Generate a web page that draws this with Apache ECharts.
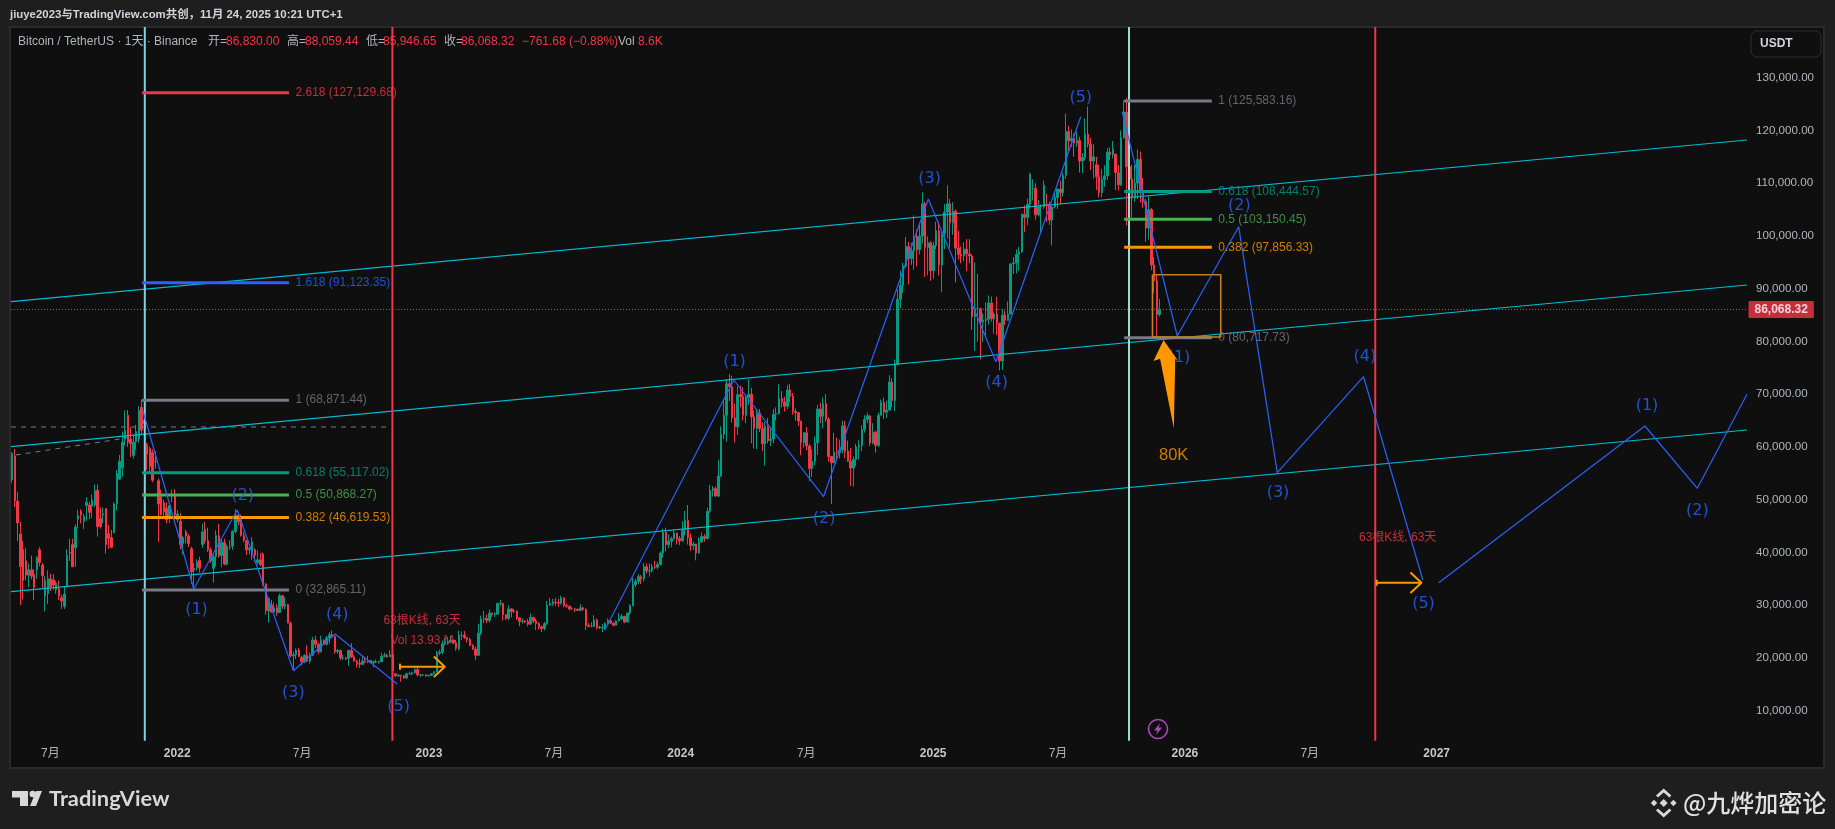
<!DOCTYPE html>
<html>
<head>
<meta charset="utf-8">
<title>BTCUSDT</title>
<script src="https://cdn.jsdelivr.net/npm/echarts@6/dist/echarts.min.js"></script>
<style>html,body{margin:0;padding:0;background:#1e1e1e}#main{width:1835px;height:829px}</style>
</head>
<body>
<div id="main"></div>
<script>
// x axis counts daily bars from 2021-05-05. candle rows: [open, close, low, high] in thousands, one row per 4 bars
var candles2021 = [
[53.8,58.8,53.2,59.0],[58.3,49.8,48.6,59.6],[49.7,45.6,42.2,51.5],[43.5,37.3,30.0,45.8],[40.6,34.7,31.1,42.2],[38.4,35.7,34.7,40.8],[35.7,36.7,33.4,37.9],
[36.7,35.5,34.9,39.4],[35.8,33.4,31.0,36.8],[36.7,39.0,35.0,39.3],[40.5,38.1,37.4,41.0],[37.6,35.6,33.3,38.0],[31.7,34.7,28.8,35.5],[32.2,35.0,30.2,36.6],
[35.0,33.5,32.7,36.0],[34.8,33.8,32.9,35.9],[32.9,34.2,32.2,34.6],[33.1,31.8,31.0,34.7],[31.4,30.8,29.3,32.0],[29.8,32.1,29.3,33.6],[33.7,39.4,33.6,40.6],
[40.0,39.9,38.4,42.6],[41.5,37.3,37.3,42.6],[40.9,44.8,37.3,45.3],[46.3,47.0,44.6,48.1],[47.8,47.1,45.5,48.2],[45.9,46.8,44.4,47.3],[48.9,49.5,46.0,50.5],
[49.0,47.6,46.3,49.6],[48.8,49.9,46.5,51.0],[49.0,51.7,48.6,52.9],[51.8,44.9,43.0,52.9],[46.4,44.9,44.5,48.5],[47.1,47.3,45.5,48.5],[48.3,41.5,39.8,48.4],
[43.6,42.7,40.7,45.2],[42.8,41.0,40.8,44.3],[43.8,49.2,43.6,49.5],[49.2,54.9,48.0,55.6],[53.9,57.3,53.7,58.5],[56.0,60.9,54.3,62.9],[61.5,63.1,60.3,66.9],
[66.0,60.9,60.0,67.0],[61.5,60.6,58.1,63.7],[58.4,60.9,57.8,62.5],[61.0,62.9,59.5,64.2],[61.5,66.9,60.8,67.7],[67.5,63.2,62.3,69.0],[64.4,65.0,62.4,66.3],
[60.4,58.6,55.6,60.8],[59.7,56.3,55.3,60.0],[58.9,53.7,53.3,59.5],[57.3,57.2,55.9,59.2],[53.6,49.2,42.0,54.0],[50.6,47.2,47.0,51.9],[49.4,47.7,46.8,50.0],
[48.4,46.2,45.5,49.5],[46.7,48.9,45.6,49.3],[50.8,50.7,49.5,51.9],[50.7,47.1,46.0,52.0],[46.2,47.3,45.7,48.0]
];
var candles2022 = [
[45.9,41.5,40.6,47.5],[41.7,42.8,39.6,43.1],[43.9,43.1,41.7,44.3],[43.1,41.7,41.0,43.5],[40.7,36.3,34.0,41.1],[36.7,37.0,32.9,38.0],[37.2,38.2,36.6,38.7],
[38.5,37.0,36.2,39.2],[41.5,43.9,40.9,45.5],[44.4,42.2,41.7,45.8],[42.2,40.5,40.1,44.7],[40.5,38.4,38.0,40.9],[37.0,39.2,34.3,39.8],[39.2,43.2,37.4,44.2],
[43.2,39.4,39.0,45.4],[39.4,41.9,37.2,42.6],[41.9,37.8,37.6,42.6],[37.8,41.1,37.5,41.5],[41.1,41.0,40.5,42.3],[41.2,44.0,40.5,44.2],[44.0,47.1,43.6,48.2],
[47.1,45.8,45.2,47.7],[46.5,43.2,43.0,47.2],[43.2,42.3,41.9,43.9],[42.2,40.5,39.5,42.4],[40.5,40.8,39.6,41.0],[39.7,42.0,38.6,42.9],[40.5,39.5,38.2,40.8],
[38.1,38.6,37.7,40.4],[38.6,37.7,37.4,39.9],[39.7,34.0,33.7,40.0],[34.0,29.0,28.2,34.2],[28.9,31.3,26.7,31.4],[30.0,28.7,28.6,31.0],[28.7,29.5,28.6,30.5],
[29.5,28.6,28.0,30.2],[28.6,31.8,28.5,32.2],[31.8,29.8,29.3,31.9],[29.8,30.2,29.2,31.5],[30.1,26.6,26.6,30.3],[26.6,20.4,20.1,26.9],[20.4,20.6,17.6,21.2],
[20.6,21.5,19.8,21.8],[21.5,20.3,20.2,21.9],[20.1,19.3,18.6,20.4],[19.3,20.5,19.0,20.7],[20.5,19.4,19.2,22.4],[19.4,20.5,18.9,21.0],[20.5,23.4,20.4,24.0],
[23.4,22.6,21.9,24.2],[22.6,21.2,20.7,22.9],[21.2,23.3,21.0,24.2],[23.3,22.6,22.5,23.5],[22.6,23.8,22.4,24.2],[23.8,24.4,22.7,24.9],[24.4,24.1,23.9,25.2],
[24.1,21.2,20.8,24.2],[21.2,21.4,20.8,21.7],[21.4,20.0,19.6,21.6],[20.0,20.0,19.6,20.6],[20.0,19.9,19.6,20.2],[19.9,21.4,18.5,21.6],[21.4,20.2,20.0,22.8],
[20.2,19.4,19.3,20.5],[19.4,19.0,18.2,19.7],[19.0,18.8,18.1,19.9],[18.8,19.4,18.6,20.3],[19.4,19.3,19.0,20.2],[19.3,19.5,19.0,20.4],[19.5,19.1,19.0,19.6],
[19.1,19.3,18.2,19.5],[19.3,19.2,19.0,19.7],[19.2,19.3,18.9,19.5],[19.3,20.3,19.2,21.0],[20.3,20.5,20.1,21.0],[20.5,20.2,20.1,20.8],[20.2,20.6,20.2,21.5],
[20.6,17.6,15.6,20.7],[17.0,16.6,16.4,17.1],[16.6,16.7,16.4,17.0],[16.7,16.6,15.5,16.8],[16.6,16.2,16.0,16.8],[16.2,17.0,16.0,17.2],[17.0,17.0,16.9,17.4],
[17.0,17.2,16.7,17.4],[17.2,17.8,17.0,18.0],[17.8,16.8,16.5,18.4],[16.8,16.8,16.4,16.9],[16.8,16.8,16.6,16.9],[16.8,16.6,16.5,16.9],[16.6,16.7,16.5,16.8]
];
var candles2023 = [
[16.7,17.0,16.6,17.1],[17.0,17.4,16.9,17.5],[17.4,20.9,17.3,21.3],[20.9,21.1,20.5,21.6],[21.1,22.7,20.7,23.3],[22.7,23.0,22.4,23.8],[23.0,23.1,22.5,23.9],
[23.1,23.4,22.8,24.2],[23.4,22.9,22.6,23.4],[22.9,21.8,21.4,23.4],[21.8,24.3,21.4,25.2],[24.3,24.3,23.4,25.0],[24.3,23.9,23.6,25.1],[23.9,23.5,22.9,23.9],
[23.5,22.4,22.2,23.8],[22.4,21.7,21.5,22.6],[21.7,20.5,19.6,22.1],[20.5,24.7,20.4,26.5],[24.7,27.4,24.3,28.0],[27.4,27.5,26.6,28.9],[27.5,27.1,26.6,28.2],
[27.1,28.5,26.7,29.2],[28.5,28.2,27.8,28.6],[28.2,28.3,27.8,28.7],[28.3,30.3,28.2,30.5],[30.3,30.3,29.9,31.0],[30.3,28.2,27.1,30.5],[28.2,27.5,27.2,28.0],
[27.5,29.3,27.2,30.0],[29.3,28.8,27.7,29.4],[28.8,28.9,28.5,29.3],[28.9,27.6,27.2,29.0],[27.6,26.9,26.0,27.7],[26.9,27.0,26.5,27.5],[27.0,26.9,26.6,27.2],
[26.9,26.4,26.0,27.4],[26.4,27.7,26.4,28.4],[27.7,27.0,26.6,27.8],[27.0,26.5,25.3,27.4],[26.5,25.9,25.4,26.8],[25.9,25.6,24.9,26.1],[25.6,26.5,25.2,26.8],
[26.5,30.0,26.3,30.8],[30.0,30.3,29.9,31.4],[30.3,30.6,29.9,31.2],[30.6,30.5,29.9,31.4],[30.5,30.4,29.7,31.2],[30.4,31.4,30.1,31.8],[31.4,29.9,29.6,31.4],
[29.9,29.8,29.5,30.3],[29.8,29.3,29.0,30.0],[29.3,29.3,29.1,29.7],[29.3,29.2,28.7,29.5],[29.2,29.0,28.9,29.4],[29.0,29.5,28.9,30.2],[29.5,29.2,29.0,29.7],
[29.2,26.1,25.3,29.4],[26.1,26.0,25.8,26.6],[26.0,26.0,25.8,26.8],[26.0,27.2,25.9,28.1],[27.2,25.8,25.4,27.5],[25.8,25.7,25.5,26.1],[25.7,25.8,24.9,26.4],
[25.8,26.5,25.4,26.8],[26.5,27.1,26.4,27.5],[27.1,26.6,26.4,27.2],[26.6,26.2,26.0,26.8],[26.2,27.0,26.2,27.2],[27.0,27.4,26.9,28.5],[27.4,27.9,27.2,28.3],
[27.9,26.8,26.6,27.9],[26.8,28.5,26.8,28.6],[28.5,29.9,28.1,30.2],[29.9,33.9,29.8,35.2],[33.9,34.5,33.4,35.0],[34.5,35.4,34.0,35.9],[35.4,35.0,34.0,35.7],
[35.0,37.3,34.5,38.0],[37.3,36.5,36.0,37.9],[36.5,36.6,35.4,37.9],[36.6,37.3,36.2,37.8],[37.3,37.2,36.9,38.4],[37.2,37.7,36.8,38.2],[37.7,39.9,37.6,40.2],
[39.9,43.8,39.0,44.5],[43.8,41.5,40.2,44.7],[41.5,42.1,40.8,43.4],[42.1,42.6,41.0,43.0],[42.6,43.7,42.5,44.3],[43.7,42.6,41.5,43.7],[42.6,42.2,41.4,43.1]
];
var candles2024 = [
[42.2,44.2,42.0,45.9],[44.2,46.1,43.2,47.9],[46.1,42.8,41.5,49.0],[42.8,41.3,40.3,43.6],[41.3,41.6,40.5,42.0],[41.6,39.9,38.5,41.6],[39.9,42.0,39.8,42.8],
[42.0,43.0,41.8,43.8],[43.0,42.6,42.0,43.5],[42.6,47.8,42.5,48.5],[47.8,51.8,47.5,52.8],[51.8,52.1,50.6,52.6],[52.1,50.7,50.5,52.5],[50.7,54.5,50.5,57.5],
[54.5,62.4,54.3,63.9],[62.4,66.0,61.5,69.0],[66.0,72.0,61.0,72.9],[72.0,71.4,68.7,73.8],[71.4,65.5,64.6,73.5],[65.5,63.8,60.8,68.2],[63.8,69.9,62.3,71.5],
[69.9,69.5,67.5,71.6],[69.5,66.0,65.0,71.3],[66.0,69.3,64.5,69.8],[69.3,70.0,68.0,72.8],[70.0,65.7,60.7,71.2],[65.7,63.5,59.7,66.9],[63.5,66.4,59.6,67.2],
[66.4,63.5,62.8,67.2],[63.5,60.6,59.2,64.7],[60.6,63.9,56.5,64.7],[63.9,61.2,60.7,65.5],[61.2,61.5,60.2,63.5],[61.5,66.2,60.7,67.2],[66.2,66.3,65.0,67.5],
[66.3,69.2,66.2,71.9],[69.2,68.5,67.5,70.6],[68.5,67.7,66.7,69.5],[67.7,70.8,67.2,71.8],[70.8,69.6,68.5,72.0],[69.6,66.7,66.1,70.2],[66.7,66.5,65.0,67.3],
[66.5,64.9,64.0,66.6],[64.9,60.8,58.4,65.0],[60.8,62.7,59.9,62.8],[62.7,60.2,59.4,63.8],[60.2,55.9,53.5,60.5],[55.9,57.3,54.3,59.5],[57.3,60.8,56.5,62.0],
[60.8,67.2,58.5,68.0],[67.2,65.8,64.5,68.4],[65.8,68.2,63.5,69.4],[68.2,65.3,64.8,70.0],[65.3,58.2,57.2,65.6],[58.2,57.0,49.2,58.3],[57.0,59.0,57.0,62.7],
[59.0,58.9,57.8,61.8],[58.9,59.4,57.8,61.4],[59.4,64.0,58.8,65.0],[64.0,59.2,57.9,64.9],[59.2,57.3,57.2,61.2],[57.3,56.0,52.6,59.8],[56.0,57.6,52.5,58.2],
[57.6,60.0,56.4,60.6],[60.0,60.3,57.6,61.3],[60.3,63.3,59.2,64.1],[63.3,65.2,62.7,66.0],[65.2,65.9,64.5,66.5],[65.9,60.7,60.2,66.0],[60.7,62.8,60.5,64.5],
[62.8,60.3,58.9,63.1],[60.3,66.0,60.0,66.5],[66.0,68.4,66.0,69.0],[68.4,66.6,65.3,69.4],[66.6,67.0,65.5,68.8],[67.0,72.3,66.8,73.6],[72.3,68.8,67.5,73.0],
[68.8,75.7,66.8,76.5],[75.7,88.0,75.5,89.9],[88.0,90.6,86.3,93.4],[90.6,94.3,89.2,94.9],[94.3,98.0,94.0,99.8],[98.0,95.7,90.8,98.9],[95.7,97.2,94.5,98.7],
[97.2,99.9,93.6,103.9],[99.9,97.4,94.2,101.2],[97.4,100.0,96.5,102.5],[100.0,106.1,98.5,108.3],[106.1,97.8,92.2,106.5],[97.8,98.7,92.5,99.9],[98.7,93.4,91.5,99.0],
[93.4,98.2,91.9,98.9]
];
var candles2025 = [
[98.2,101.0,97.5,102.7],[101.0,94.5,92.5,102.7],[94.5,100.5,89.3,100.7],[100.5,104.5,97.5,106.0],[104.5,106.1,99.5,109.6],[106.1,102.5,97.8,107.0],[102.5,104.7,100.2,106.4],
[104.7,97.7,91.2,105.0],[97.7,96.5,95.5,101.0],[96.5,96.2,94.8,98.0],[96.2,97.5,95.2,98.8],[97.5,96.6,93.3,99.4],[96.6,96.2,94.8,99.4],[96.2,84.7,82.2,96.5],
[84.7,86.2,78.2,95.0],[86.2,86.2,80.0,92.8],[86.2,83.7,76.6,86.4],[83.7,84.0,79.9,85.3],[84.0,84.2,81.2,87.4],[84.2,87.3,83.2,88.7],[87.3,84.3,83.8,88.5],
[84.3,85.2,81.5,85.5],[85.2,83.5,81.2,88.5],[83.5,76.3,74.5,83.5],[76.3,85.0,74.6,86.1],[85.0,84.0,83.1,85.8],[84.0,85.2,83.9,87.6],[85.2,94.7,85.1,94.7],
[94.7,94.9,92.8,96.0],[94.9,96.5,92.9,97.4],[96.5,97.0,93.4,97.9],[97.0,104.1,96.8,104.3],[104.1,103.5,100.7,105.8],[103.5,106.0,102.0,107.1],[106.0,111.7,105.2,112.0],
[108.9,109.0,106.8,110.7],[109.0,104.0,103.1,110.0],[104.0,105.5,103.7,106.8],[105.5,105.5,100.4,106.0],[105.5,109.6,105.1,110.5],[106.0,105.9,102.7,108.0],[105.9,103.0,102.1,106.5],
[103.0,105.5,98.2,105.8],[105.5,107.3,105.2,108.5],[107.3,108.9,105.1,108.9],[108.9,108.2,106.0,110.5],[108.2,111.5,107.5,112.0],[111.5,119.8,110.8,123.2],[119.8,118.0,115.7,120.9],
[118.0,118.5,116.9,120.2],[118.5,117.6,115.0,119.4],[117.6,118.1,116.9,119.8],[118.1,114.2,112.0,118.8],[114.2,114.9,111.9,115.7],[114.9,119.3,114.3,122.3],[119.3,117.4,116.8,124.5],
[117.4,114.2,112.5,118.6],[114.2,115.0,110.9,117.4],[113.5,111.2,108.7,115.0],[111.2,108.2,107.3,113.5],[108.2,110.7,107.3,112.7],[110.7,111.4,109.3,113.4],[111.4,115.9,110.6,116.7],
[115.9,115.4,114.4,116.8],[115.4,116.5,114.7,118.0],[115.5,112.0,108.7,115.6],[112.0,109.7,108.6,113.5],[109.7,118.6,109.5,120.0],[118.6,123.5,118.5,125.7],[123.5,113.1,102.0,126.2],
[113.1,110.8,109.5,115.8],[110.8,107.2,103.5,113.5],[107.2,110.0,106.5,113.5],[110.0,114.5,107.0,116.4],[114.5,108.3,106.3,116.0],[108.3,106.5,105.3,111.0],[106.5,101.5,98.9,107.0],
[101.5,105.0,99.3,107.5],[105.0,94.5,93.5,105.3],[94.5,91.5,89.2,96.0],[91.5,85.1,80.6,92.8],[85.1,86.07,84.7,88.06]
];

var timeTickBars = [57,241,422,606,787,971,1153,1337,1518,1702,1883,2067];
var timeTickLabels = ['7月','2022','7月','2023','7月','2024','7月','2025','7月','2026','7月','2027'];
var priceTicks = [10000,20000,30000,40000,50000,60000,70000,80000,90000,100000,110000,120000,130000];
var lastClose = 86068.32;

// channel lines
var channelUpper = [[0,87535],[2517,118190]];
var channelMiddle = [[0,60047],[2517,90700]];
var channelLower = [[0,32559],[2517,63213]];
var dashedFlat = [[0,63782],[549,63782]];
var dashedSlope = [[7,58474],[177,61886]];

// fibonacci retracements
var fibRatios = ['2.618','1.618','1','0.618','0.5','0.382','0'];
var fibColors = ['#f23645','#2962ff','#787b86','#089981','#4caf50','#ff9800','#787b86'];
var fibLeftBars = [190,403];
var fibLeftValues = [127129.68,91123.35,68871.44,55117.02,50868.27,46619.53,32865.11];
var fibRightRatios = ['1','0.618','0.5','0.382','0'];
var fibRightColors = ['#787b86','#089981','#4caf50','#ff9800','#787b86'];
var fibRightBars = [1614,1741];
var fibRightValues = [125583.16,108444.57,103150.45,97856.33,80717.73];

// elliott wave paths and counts
var waveDown2021 = [[191,67004],[265,33071],[328,48047],[409.5,17583],[470,24540],[560,15062]];
var waveUp2023 = [[861,25298],[1048,72691],[1178,50568],[1330,107003],[1428,76160],[1551,122605]];
var waveDown2025 = [[1611,123552],[1691,81032],[1780,101752],[1836,55118],[1961,73316],[2047,34777]];
var waveUp2027 = [[2070,34265],[2369,63971],[2445,52160],[2517,69980]];
var waveLabels = [
['(1)',269,29090],['(2)',336,50700],['(3)',409.5,13355],['(4)',473,28142],['(5)',562,10758],
['(1)',1049,76160],['(2)',1179,46284],['(3)',1332,110794],['(4)',1429,72065],['(5)',1551,126206],
['(1)',1693.5,76861],['(2)',1781,105733],['(3)',1837,51213],['(4)',1963,77108],['(5)',2048,30170],
['(1)',2372,67762],['(2)',2445,47914]
];

// vertical cycle lines
var cycleBars = [194,553,1621,1978];
var cycleColors = ['#7fd3e0','#f23645','#a3dcd8','#f23645'];
var cycleBottom = 4300;
var cycleTop = 139600;

// annotations
var targetBox = [[1655,92653],[1754,92653],[1754,80842],[1655,80842],[1655,92653]];
var bigArrow = [[1671,80275],[1692,76350],[1688,76700],[1686,63535],[1666,76700],[1656.5,76293]];
var spanLeftShaft = [[564,18341],[629,18341]];
var spanLeftHead = [[613,20291],[629,18341],[613,16391]];
var spanLeftTick = [[564,17771],[564,18911]];
var spanRightShaft = [[1980,34265],[2045,34265]];
var spanRightHead = [[2029,36215],[2045,34265],[2029,32315]];
var spanRightTick = [[1980,33695],[1980,34835]];
var noteLabels = [['63根K线, 63天',596,27061],['Vol 13.93 M',596,23270],['63根K线, 63天',2010.5,42871]];

// header texts
var headerLabels = [
['Bitcoin / TetherUS · 1天 · Binance',18,'#b2b5be'],['开=',208,'#b2b5be'],['86,830.00',226,'#f23645'],
['高=',287,'#b2b5be'],['88,059.44',305,'#f23645'],['低=',366,'#b2b5be'],['85,946.65',383,'#f23645'],
['收=',444,'#b2b5be'],['86,068.32',461,'#f23645'],['−761.68 (−0.88%)',522,'#f23645'],
['Vol',618,'#b2b5be'],['8.6K',638,'#f23645']
];

var FONT = '"Liberation Sans","Noto Sans CJK SC",sans-serif';
var UP = '#089981', DOWN = '#f23645', BLUE = '#2962ff', ORANGE = '#ff9800';

var myChart = echarts.init(document.getElementById('main'));

var candleRows = [].concat(candles2021, candles2022, candles2023, candles2024, candles2025);
var candleData = candleRows.map(function (r, i) {
	return [i * 4 + 1.5, r[0] * 1000, r[1] * 1000, r[2] * 1000, r[3] * 1000];
});

function money(v) {
	return v.toLocaleString('en-US', {minimumFractionDigits: 2, maximumFractionDigits: 2});
}
function lineOf(points, color, width, type, z) {
	return {
		type: 'line', data: points, silent: true, animation: false, showSymbol: false, symbol: 'none',
		lineStyle: {color: color, width: width, type: type || 'solid', cap: 'butt'}, z: z || 5
	};
}
function textOf(rows, color, size, family, z) {
	return {
		type: 'scatter', silent: true, animation: false, symbolSize: 1, itemStyle: {color: 'rgba(0,0,0,0)'}, z: z || 8,
		data: rows.map(function (r) {
			return {
				value: [r[1], r[2]],
				label: {show: true, position: 'inside', formatter: r[0], color: r[3] || color, fontSize: size, fontFamily: family || FONT}
			};
		})
	};
}
function fibSeries(bars, values, ratios, colors) {
	var out = [];
	values.forEach(function (v, i) {
		out.push(lineOf([[bars[0], v], [bars[1], v]], colors[i], 3, 'solid', 6));
		out.push({
			type: 'scatter', silent: true, animation: false, symbolSize: 1, itemStyle: {color: 'rgba(0,0,0,0)'}, z: 8,
			data: [[bars[1], v]],
			label: {
				show: true, position: 'right', distance: 6, formatter: ratios[i] + ' (' + money(v) + ')',
				color: colors[i], fontSize: 12, fontFamily: FONT
			}
		});
	});
	return out;
}

var series = [{
	type: 'candlestick', data: candleData, silent: true, animation: false, barWidth: 2, z: 3,
	encode: {x: 0, y: [1, 2, 3, 4]},
	itemStyle: {color: UP, color0: DOWN, borderColor: UP, borderColor0: DOWN, borderWidth: 1}
}];
[channelUpper, channelMiddle, channelLower].forEach(function (p) { series.push(lineOf(p, '#00bcd4', 1.2)); });
series.push(lineOf(dashedFlat, '#787b86', 1, [5, 5], 4));
series.push(lineOf(dashedSlope, '#787b86', 1, [5, 5], 4));
cycleBars.forEach(function (b, i) {
	series.push(lineOf([[b, cycleBottom], [b, cycleTop]], cycleColors[i], 2, 'solid', 5));
});
series = series.concat(fibSeries(fibLeftBars, fibLeftValues, fibRatios, fibColors));
series = series.concat(fibSeries(fibRightBars, fibRightValues, fibRightRatios, fibRightColors));
[waveDown2021, waveUp2023, waveDown2025, waveUp2027].forEach(function (p) { series.push(lineOf(p, BLUE, 1.2, 'solid', 7)); });
series.push(textOf(waveLabels, BLUE, 16, '"DejaVu Sans",sans-serif'));
series.push(lineOf(targetBox, '#c8801a', 1.6, 'solid', 6));
[spanLeftShaft, spanLeftHead, spanLeftTick, spanRightShaft, spanRightHead, spanRightTick].forEach(function (p) {
	series.push(lineOf(p, ORANGE, 2, 'solid', 7));
});
series.push(textOf(noteLabels, DOWN, 12));
series.push(textOf([['80K', 1685.7, 58473]], ORANGE, 16.5));
series.push({
	type: 'custom', silent: true, animation: false, z: 9, data: [[0]], clip: false,
	renderItem: function (params, api) {
		return {type: 'polygon', shape: {points: bigArrow.map(function (p) { return api.coord(p); })}, style: {fill: ORANGE}};
	}
});
series.push(lineOf([[0, lastClose], [2517, lastClose]], DOWN, 1, [1, 2], 4));
series.push({
	type: 'scatter', silent: true, animation: false, symbolSize: 1, itemStyle: {color: 'rgba(0,0,0,0)'}, z: 10,
	data: [[2517, lastClose]],
	label: {
		show: true, position: 'right', distance: 1, formatter: money(lastClose), color: '#fff', fontWeight: 'bold',
		backgroundColor: DOWN, padding: [3, 6, 2, 6], borderRadius: 1, fontSize: 12, fontFamily: FONT
	}
});

var graphics = [
	{type: 'rect', z: -5, silent: true, shape: {x: 10, y: 27, width: 1814, height: 741}, style: {fill: '#0f0f0f', stroke: '#2a2a2a', lineWidth: 2}},
	{type: 'text', x: 10, y: 15, silent: true, style: {text: 'jiuye2023与TradingView.com共创，11月 24, 2025 10:21 UTC+1', fill: '#d1d4dc', font: 'bold 11.4px ' + FONT, textVerticalAlign: 'middle'}},
	{type: 'rect', silent: true, shape: {x: 1751, y: 31, width: 70, height: 26, r: 6}, style: {fill: '#0f0f0f', stroke: '#2f2f2f', lineWidth: 1}},
	{type: 'text', x: 1760, y: 44, silent: true, style: {text: 'USDT', fill: '#d1d4dc', font: 'bold 12px ' + FONT, textVerticalAlign: 'middle'}},
	// lightning marker
	{type: 'circle', silent: true, shape: {cx: 1158, cy: 729, r: 9.5}, style: {fill: 'none', stroke: '#ab47bc', lineWidth: 1.6}},
	{type: 'polygon', silent: true, shape: {points: [[1160,723],[1154,730.5],[1157.5,730.5],[1156,735],[1162,727.5],[1158.5,727.5]]}, style: {fill: '#ab47bc'}},
	// TradingView logo
	{type: 'polygon', silent: true, shape: {points: [[12,791],[28,791],[28,806],[20,806],[20,797.5],[12,797.5]]}, style: {fill: '#d8d8d8'}},
	{type: 'circle', silent: true, shape: {cx: 32.7, cy: 794, r: 3.2}, style: {fill: '#d8d8d8'}},
	{type: 'polygon', silent: true, shape: {points: [[30,806],[36,791],[42,791],[36,806]]}, style: {fill: '#d8d8d8'}},
	{type: 'text', x: 49, y: 799, silent: true, style: {text: 'TradingView', fill: '#d8d8d8', font: 'bold 21.8px Lato,' + FONT, textVerticalAlign: 'middle'}},
	// Binance watermark
	{type: 'polygon', silent: true, shape: {points: [[1663.7,799],[1667.7,803],[1663.7,807],[1659.7,803]]}, style: {fill: '#d8d8d8'}},
	{type: 'polygon', silent: true, shape: {points: [[1654,799.8],[1657.2,803],[1654,806.2],[1650.8,803]]}, style: {fill: '#d8d8d8'}},
	{type: 'polygon', silent: true, shape: {points: [[1673.4,799.8],[1676.6,803],[1673.4,806.2],[1670.2,803]]}, style: {fill: '#d8d8d8'}},
	{type: 'polyline', silent: true, shape: {points: [[1657,796.5],[1663.7,790.5],[1670.4,796.5]]}, style: {fill: 'none', stroke: '#d8d8d8', lineWidth: 3}},
	{type: 'polyline', silent: true, shape: {points: [[1657,809.5],[1663.7,815.5],[1670.4,809.5]]}, style: {fill: 'none', stroke: '#d8d8d8', lineWidth: 3}},
	{type: 'text', x: 1683, y: 803, silent: true, style: {text: '@九烨加密论', fill: '#e0e0e0', font: '500 24px "Noto Sans CJK SC"', textVerticalAlign: 'middle'}}
];
headerLabels.forEach(function (h) {
	graphics.push({type: 'text', x: h[1], y: 42, silent: true, z: 12, style: {text: h[0], fill: h[2], font: '12px ' + FONT, textVerticalAlign: 'middle'}});
});

var option = {
	backgroundColor: '#1e1e1e',
	animation: false,
	grid: {left: 11, right: 88, top: 27, bottom: 88, containLabel: false},
	xAxis: {
		type: 'value', min: 0, max: 2517,
		axisLine: {show: false}, axisTick: {show: false}, splitLine: {show: false},
		axisLabel: {
			color: '#b2b5be', fontSize: 12, fontFamily: FONT, margin: 7, showMinLabel: true, showMaxLabel: true,
			customValues: timeTickBars,
			formatter: function (v) {
				var text = timeTickLabels[timeTickBars.indexOf(v)] || '';
				return text.indexOf('月') > 0 ? text : '{year|' + text + '}';
			},
			rich: {year: {fontWeight: 'bold', color: '#c4c7ce', fontSize: 12, fontFamily: FONT}}
		}
	},
	yAxis: {
		type: 'value', position: 'right', min: 4256, max: 139611, scale: true,
		axisLine: {show: false}, axisTick: {show: false}, splitLine: {show: false},
		axisLabel: {
			color: '#b2b5be', fontSize: 11.6, fontFamily: FONT, margin: 9,
			customValues: priceTicks,
			formatter: function (v) { return money(v); }
		}
	},
	tooltip: {show: false},
	graphic: graphics,
	series: series
};
myChart.setOption(option);
</script>
</body>
</html>
